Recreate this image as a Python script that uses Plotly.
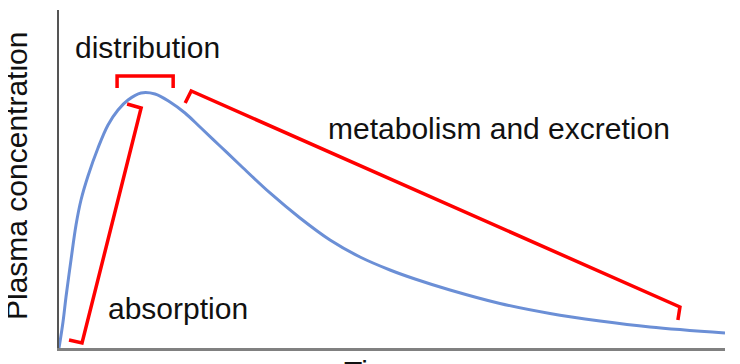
import plotly.graph_objects as go

# Concentration-time curve (arbitrary units)
time = [0, 0.144, 0.252, 0.432, 0.613, 0.793, 1.045, 1.405, 1.766, 2.126, 2.486, 2.955,
        3.459, 4.000, 4.541, 5.081, 5.802, 6.523, 7.604, 8.685, 9.766, 10.847, 11.928,
        12.829, 14.090, 15.892, 17.694, 19.496, 21.297, 24.0]
conc = [0, 0.769, 1.509, 2.604, 3.639, 4.379, 5.089, 5.917, 6.598, 7.041, 7.337, 7.544,
        7.515, 7.278, 6.953, 6.538, 5.976, 5.414, 4.586, 3.846, 3.195, 2.692, 2.308,
        2.041, 1.716, 1.317, 1.021, 0.799, 0.621, 0.444]

# Phase brackets
absorption_t = [0.361, 0.830, 2.959, 2.454]
absorption_c = [0.237, 0.148, 7.101, 7.219]
distribution_t = [2.093, 2.093, 4.114, 4.114]
distribution_c = [7.692, 8.047, 8.047, 7.692]
metabolism_t = [4.547, 4.764, 22.376, 22.303]
metabolism_c = [7.249, 7.604, 1.213, 0.828]

# Labels
label_text = ["distribution", "metabolism and excretion", "absorption"]
label_t = [0.50, 9.63, 1.69]
label_c = [8.905, 6.509, 1.183]

FONT = "Arial, Liberation Sans, sans-serif"
OFF = 8  # page body margin
W, H = 740 - OFF, 364 - OFF
L, R, T, B = 51, 15, 2, 16
pw = W - L - R
ph = H - T - B


def px_x(px):
    return (px - OFF - L) / pw


def px_y(py):
    return (OFF + H - B - py) / ph


fig = go.Figure()
fig.add_trace(go.Scatter(x=time, y=conc, mode="lines",
                         line=dict(color="#6B8FD6", width=3, shape="spline", smoothing=1.0),
                         hoverinfo="skip"))
for bt, bc in [(absorption_t, absorption_c), (distribution_t, distribution_c), (metabolism_t, metabolism_c)]:
    fig.add_trace(go.Scatter(x=bt, y=bc, mode="lines", line=dict(color="#FF0000", width=3.5),
                             hoverinfo="skip"))

annotations = []
for txt, tx, cy in zip(label_text, label_t, label_c):
    annotations.append(dict(x=tx, y=cy, xref="x", yref="y", text=txt, showarrow=False,
                            xanchor="left", yanchor="middle", font=dict(family=FONT, size=30, color="#111111")))

annotations.append(dict(x=px_x(17), y=px_y(176), xref="paper", yref="paper",
                        text="Plasma concentration", textangle=-90, showarrow=False,
                        xanchor="center", yanchor="middle", font=dict(family=FONT, size=30, color="#111111")))
annotations.append(dict(x=px_x(377), y=px_y(353), xref="paper", yref="paper",
                        text="Time", showarrow=False, xanchor="center", yanchor="top",
                        font=dict(family=FONT, size=30, color="#111111")))

fig.update_layout(
    width=W, height=H,
    margin=dict(l=L, r=R, t=T, b=B),
    paper_bgcolor="white", plot_bgcolor="white",
    showlegend=False,
    annotations=annotations,
    xaxis=dict(range=[0, 24], showgrid=False, zeroline=False, showticklabels=False, ticks="",
               showline=True, linecolor="#808080", linewidth=3, fixedrange=True),
    yaxis=dict(range=[0, 10], showgrid=False, zeroline=False, showticklabels=False, ticks="",
               showline=True, linecolor="#555555", linewidth=2, fixedrange=True),
)

fig.write_html("out.html", config={"displayModeBar": False})
